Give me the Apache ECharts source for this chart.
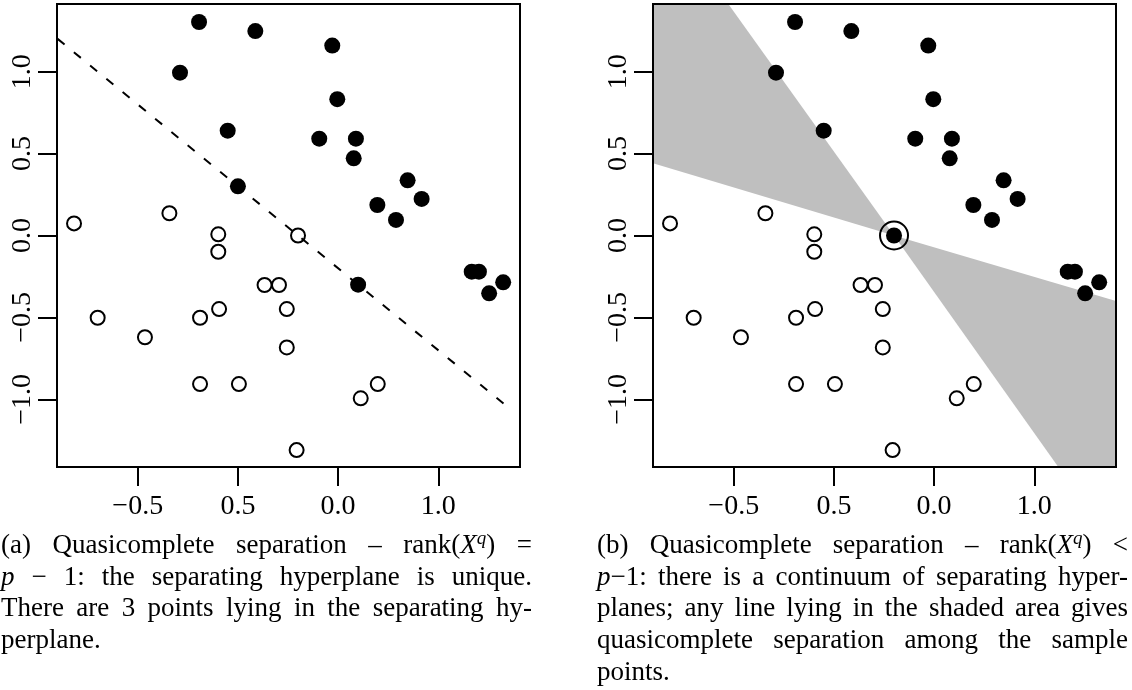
<!DOCTYPE html>
<html>
<head>
<meta charset="utf-8">
<script src="https://cdn.jsdelivr.net/npm/echarts@6/dist/echarts.min.js"></script>
<style>
html,body{margin:0;padding:0;background:#fff;}
#chart{width:1132px;height:690px;}
</style>
</head>
<body>
<div id="chart"></div>
<script>
// ---------- data ----------
const xMin = -0.903, xMax = 1.408;
const yMin = -1.413, yMax = 1.413;

const xTickValues = [-0.5, 0.0, 0.5, 1.0];
const xTickLabels = ['−0.5', '0.5', '0.0', '1.0'];
const yTickValues = [-1.0, -0.5, 0.0, 0.5, 1.0];
const yTickLabels = ['−1.0', '−0.5', '0.0', '0.5', '1.0'];

// points shared by both panels
const filledCommon = [
  [-0.194, 1.303], [0.087, 1.248], [-0.289, 0.994], [-0.051, 0.640],
  [0.471, 1.159], [0.496, 0.832], [0.406, 0.591], [0.589, 0.591],
  [0.578, 0.471], [0.847, 0.337], [0.917, 0.223], [0.696, 0.186],
  [0.789, 0.095], [1.167, -0.221], [1.203, -0.221], [1.324, -0.286],
  [1.254, -0.353]
];
const openCommon = [
  [-0.818, 0.074], [-0.342, 0.136], [-0.098, 0.007], [-0.098, -0.099],
  [0.133, -0.302], [0.205, -0.302], [0.244, -0.449], [0.244, -0.683],
  [-0.700, -0.502], [-0.464, -0.621], [-0.189, -0.502], [-0.094, -0.449],
  [-0.189, -0.907], [0.005, -0.907], [0.698, -0.907], [0.613, -0.994],
  [0.293, -1.310]
];
// panel (a) only
const filledLeftOnly = [[0.0, 0.3], [0.6, -0.3]];
const openLeftOnly = [[0.3, 0.0]];
const dashedLine = [[-0.9, 1.2], [1.36, -1.06]];
// panel (b) only
const filledRightOnly = [[0.3, 0.0]];
const circledRight = [[0.3, 0.0]];
const shadeUpper = [[-0.903, 1.413], [-0.527, 1.413], [0.3, 0.0], [-0.903, 0.441]];
const shadeLower = [[0.3, 0.0], [1.408, -0.400], [1.408, -1.413], [1.120, -1.413]];

const captionA = [
  "(a) Quasicomplete separation – rank(*X*^q^) =",
  "*p* − 1: the separating hyperplane is unique.",
  "There are 3 points lying in the separating hy-",
  "perplane."
];
const captionB = [
  "(b) Quasicomplete separation – rank(*X*^q^) <",
  "*p*−1: there is a continuum of separating hyper-",
  "planes; any line lying in the shaded area gives",
  "quasicomplete separation among the sample",
  "points."
];

// ---------- layout / style ----------
const FONT = '"Liberation Serif", "Times New Roman", serif';
const grids = [
  {left: 57, top: 4, width: 463, height: 463},
  {left: 653, top: 4, width: 463, height: 463}
];

function pickLabel(values, labels) {
  return function (v) {
    for (let i = 0; i < values.length; i++) {
      if (Math.abs(values[i] - v) < 1e-9) return labels[i];
    }
    return '';
  };
}

function makeX(i) {
  return {
    type: 'value', gridIndex: i, min: xMin, max: xMax, position: 'bottom',
    axisLine: {show: false, onZero: false}, splitLine: {show: false},
    axisTick: {show: true, inside: false, customValues: xTickValues, length: 19, lineStyle: {color: '#000', width: 2}},
    axisLabel: {customValues: xTickValues, formatter: pickLabel(xTickValues, xTickLabels),
      fontFamily: FONT, fontSize: 28, color: '#000', margin: 26}
  };
}
function makeY(i) {
  return {
    type: 'value', gridIndex: i, min: yMin, max: yMax, position: 'left',
    axisLine: {show: false, onZero: false}, splitLine: {show: false},
    axisTick: {show: true, inside: false, customValues: yTickValues, length: 19, lineStyle: {color: '#000', width: 2}},
    axisLabel: {customValues: yTickValues, formatter: pickLabel(yTickValues, yTickLabels),
      fontFamily: FONT, fontSize: 28, color: '#000', margin: 20, rotate: 90}
  };
}

// ---------- captions (justified) ----------
const ctx = document.createElement('canvas').getContext('2d');
const CAP_SIZE = 27, SUP_SIZE = 19;
function fragFont(f) {
  const size = f.s === 's' ? SUP_SIZE : CAP_SIZE;
  const style = (f.s === 'i' || f.s === 's') ? 'italic ' : '';
  return style + size + 'px ' + FONT;
}
function parseWord(w) {
  const re = /\*([^*]+)\*|\^([^^]+)\^|([^*^]+)/g;
  const out = [];
  let m;
  while ((m = re.exec(w)) !== null) {
    if (m[1]) out.push({t: m[1], s: 'i'});
    else if (m[2]) out.push({t: m[2], s: 's'});
    else out.push({t: m[3], s: 'n'});
  }
  return out;
}
function captionElements(lines, x0, width, base0, gap) {
  const els = [];
  lines.forEach(function (line, li) {
    const words = line.split(' ').map(parseWord);
    const widths = words.map(function (fr) {
      let w = 0;
      fr.forEach(function (f) { ctx.font = fragFont(f); f.w = ctx.measureText(f.t).width; w += f.w; });
      return w;
    });
    const total = widths.reduce(function (a, b) { return a + b; }, 0);
    const last = li === lines.length - 1;
    ctx.font = CAP_SIZE + 'px ' + FONT;
    const space = last || words.length < 2 ? ctx.measureText(' ').width : (width - total) / (words.length - 1);
    const baseline = base0 + li * gap;
    let x = x0;
    words.forEach(function (fr) {
      fr.forEach(function (f) {
        const size = f.s === 's' ? SUP_SIZE : CAP_SIZE;
        const bl = f.s === 's' ? baseline - 10 : baseline;
        els.push({
          type: 'text', x: x, y: bl - 0.34 * size, silent: true, z: 100,
          style: {text: f.t, fill: '#000', fontFamily: FONT, fontSize: size,
            fontStyle: (f.s === 'i' || f.s === 's') ? 'italic' : 'normal',
            textAlign: 'left', verticalAlign: 'middle'}
        });
        x += f.w;
      });
      x += space;
    });
  });
  return els;
}

const chart = echarts.init(document.getElementById('chart'), null, {renderer: 'canvas'});

const polygons = [shadeUpper, shadeLower];
const openStyle = {color: 'rgba(0,0,0,0)', borderColor: '#000', borderWidth: 2, opacity: 1};
const filledStyle = {color: '#000', opacity: 1};

const option = {
  animation: false,
  backgroundColor: '#fff',
  grid: grids.map(function (g) {
    return Object.assign({show: true, borderColor: '#000', borderWidth: 2, backgroundColor: 'transparent', z: 10}, g);
  }),
  xAxis: [makeX(0), makeX(1)],
  yAxis: [makeY(0), makeY(1)],
  series: [
    {
      type: 'custom', xAxisIndex: 1, yAxisIndex: 1, silent: true, z: 1, clip: true,
      data: polygons.map(function (p, i) { return [p[0][0], p[0][1], i]; }),
      renderItem: function (params, api) {
        const poly = polygons[params.dataIndex];
        return {
          type: 'polygon',
          shape: {points: poly.map(function (pt) { return api.coord(pt); })},
          style: {fill: '#bfbfbf', stroke: null}
        };
      }
    },
    {
      type: 'line', xAxisIndex: 0, yAxisIndex: 0, data: dashedLine, symbol: 'none', silent: true, z: 3,
      lineStyle: {color: '#000', width: 2, type: [9, 12]}
    },
    {
      type: 'scatter', xAxisIndex: 0, yAxisIndex: 0, data: filledCommon.concat(filledLeftOnly),
      symbol: 'circle', symbolSize: 16, silent: true, z: 4, itemStyle: filledStyle
    },
    {
      type: 'scatter', xAxisIndex: 0, yAxisIndex: 0, data: openCommon.concat(openLeftOnly),
      symbol: 'circle', symbolSize: 14, silent: true, z: 4, itemStyle: openStyle
    },
    {
      type: 'scatter', xAxisIndex: 1, yAxisIndex: 1, data: filledCommon.concat(filledRightOnly),
      symbol: 'circle', symbolSize: 16, silent: true, z: 4, itemStyle: filledStyle
    },
    {
      type: 'scatter', xAxisIndex: 1, yAxisIndex: 1, data: openCommon,
      symbol: 'circle', symbolSize: 14, silent: true, z: 4, itemStyle: openStyle
    },
    {
      type: 'scatter', xAxisIndex: 1, yAxisIndex: 1, data: circledRight,
      symbol: 'circle', symbolSize: 28, silent: true, z: 4, itemStyle: openStyle
    }
  ],
  graphic: {
    elements: captionElements(captionA, 1, 531, 555, 31.7)
      .concat(captionElements(captionB, 597, 531, 555, 31.7))
  }
};
chart.setOption(option);
</script>
</body>
</html>
